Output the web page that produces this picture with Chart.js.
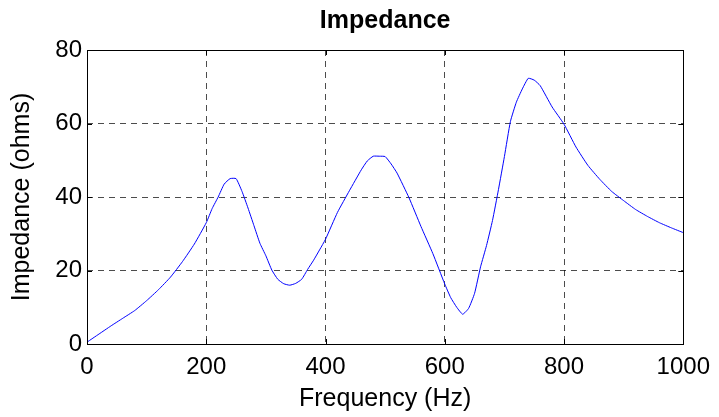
<!DOCTYPE html>
<html>
<head>
<meta charset="utf-8">
<script src="https://cdn.jsdelivr.net/npm/chart.js@4/dist/chart.umd.min.js"></script>
<style>
  html, body { margin: 0; padding: 0; background: #fff; }
  #wrap { width: 719px; height: 417px; }
</style>
</head>
<body>
<div id="wrap"><canvas id="impChart" width="719" height="417"></canvas></div>
<script>
// values
const frequency = [0, 20, 40, 60, 80, 100, 120, 140, 160, 180, 200, 210, 220, 230, 240, 250, 260, 270, 280, 290,
    300, 310, 320, 330, 340, 350, 360, 370, 380, 390, 400, 420, 440, 460, 470, 480, 490, 500, 510, 520, 540, 560,
    580, 600, 610, 620, 630, 640, 650, 660, 670, 680, 690, 700, 710, 720, 730, 740, 750, 760, 780, 800, 820, 840,
    860, 880, 900, 920, 940, 960, 980, 1000];
const impedance = [0.5, 2.7, 4.9, 7.0, 9.1, 11.8, 14.8, 18.2, 22.4, 27.2, 33.0, 36.9, 40.0, 43.5, 45.0, 45.0, 41.5, 37.0, 32.2, 27.4,
    24.0, 20.1, 17.6, 16.4, 16.0, 16.5, 17.6, 20.3, 22.8, 25.6, 28.5, 35.8, 41.7, 47.4, 49.8, 51.1, 51.1, 51.0, 49.0, 46.5, 39.8, 32.0,
    24.6, 16.3, 12.6, 10.0, 8.1, 9.7, 13.8, 21.0, 26.8, 33.6, 42.0, 51.0, 60.5, 65.8, 69.4, 72.3, 71.8, 70.3, 64.5, 59.8, 53.6, 48.6,
    44.8, 41.5, 39.0, 36.6, 34.7, 33.0, 31.6, 30.3];

const xTicks = [0, 200, 400, 600, 800, 1000];
const yTicks = [0, 20, 40, 60, 80];

const fontFamily = "'Liberation Sans', Arial, Helvetica, sans-serif";

const points = frequency.map((f, i) => ({ x: f, y: impedance[i] }));

// box around the axes and small inward tick marks, matlab style
const boxPlugin = {
    id: 'boxPlugin',
    afterDatasetsDraw(chart) {
        const { ctx, chartArea: a, scales } = chart;
        ctx.save();
        ctx.strokeStyle = '#000';
        ctx.lineWidth = 1;
        ctx.beginPath();
        xTicks.forEach(v => {
            const px = Math.round(scales.x.getPixelForValue(v)) + 0.5;
            ctx.moveTo(px, a.bottom); ctx.lineTo(px, a.bottom - 5);
            ctx.moveTo(px, a.top); ctx.lineTo(px, a.top + 5);
        });
        yTicks.forEach(v => {
            const py = Math.round(scales.y.getPixelForValue(v)) + 0.5;
            ctx.moveTo(a.left, py); ctx.lineTo(a.left + 5, py);
            ctx.moveTo(a.right, py); ctx.lineTo(a.right - 5, py);
        });
        ctx.stroke();
        ctx.strokeRect(Math.round(a.left) + 0.5, Math.round(a.top) + 0.5,
            Math.round(a.right - a.left), Math.round(a.bottom - a.top));
        ctx.restore();
    }
};

const ctx = document.getElementById('impChart').getContext('2d');

new Chart(ctx, {
    type: 'line',
    data: {
        datasets: [{
            data: points,
            borderColor: '#0000ff',
            borderWidth: 1,
            pointRadius: 0,
            tension: 0.15,
            fill: false
        }]
    },
    options: {
        responsive: false,
        animation: false,
        layout: { padding: { left: 0, right: 34, top: 0, bottom: 0 } },
        plugins: {
            legend: { display: false },
            tooltip: { enabled: false },
            title: {
                display: true,
                fullSize: false, // centre over the plot area
                text: 'Impedance',
                color: '#000',
                font: { family: fontFamily, size: 25, weight: 'bold', lineHeight: 1.2 },
                padding: { top: 6, bottom: 14 }
            }
        },
        scales: {
            x: {
                type: 'linear',
                min: 0,
                max: 1000,
                afterFit(scale) { scale.height = 73; },
                afterBuildTicks(scale) { scale.ticks = xTicks.map(v => ({ value: v })); },
                ticks: {
                    color: '#000',
                    padding: 9,
                    maxRotation: 0,
                    callback: v => String(v),
                    font: { family: fontFamily, size: 24 }
                },
                grid: {
                    color: 'rgba(0,0,0,0.7)',
                    drawTicks: false,
                    lineWidth: 1
                },
                border: { display: false, dash: [6, 5] },
                title: {
                    display: true,
                    text: 'Frequency (Hz)',
                    color: '#000',
                    font: { family: fontFamily, size: 25, lineHeight: 1.2 },
                    padding: { top: 0, bottom: 3 }
                }
            },
            y: {
                type: 'linear',
                min: 0,
                max: 80,
                afterFit(scale) { scale.width = 87; },
                afterBuildTicks(scale) { scale.ticks = yTicks.map(v => ({ value: v })); },
                ticks: {
                    color: '#000',
                    padding: 5,
                    callback: v => String(v),
                    font: { family: fontFamily, size: 24 }
                },
                grid: {
                    color: 'rgba(0,0,0,0.7)',
                    drawTicks: false,
                    lineWidth: 1
                },
                border: { display: false, dash: [6, 5] },
                title: {
                    display: true,
                    text: 'Impedance (ohms)',
                    color: '#000',
                    font: { family: fontFamily, size: 25, lineHeight: 1.2 },
                    padding: { top: 7, bottom: 0 }
                }
            }
        }
    },
    plugins: [boxPlugin]
});
</script>
</body>
</html>
